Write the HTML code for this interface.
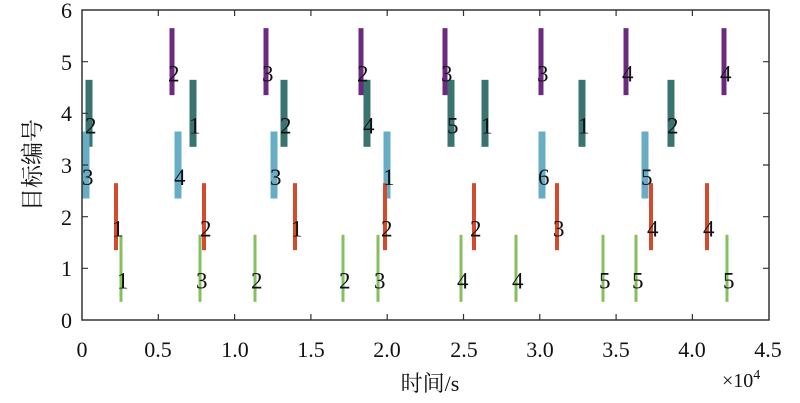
<!DOCTYPE html>
<html><head><meta charset="utf-8"><style>body{margin:0;background:#fff}svg{display:block}</style></head>
<body>
<svg width="800" height="403" xmlns="http://www.w3.org/2000/svg" style="font-family:'Liberation Serif','DejaVu Serif','Noto Serif CJK SC',serif">
<g id="bars" style="font-family:'Liberation Serif','DejaVu Serif',serif"></g>
<rect x="82" y="10" width="687" height="310" fill="none" stroke="#333" stroke-width="1.5"/>
<g stroke="#333" stroke-width="1.2">
<path d="M158.3 320v-6M234.6 320v-6M310.9 320v-6M387.2 320v-6M463.5 320v-6M539.8 320v-6M616.1 320v-6M692.4 320v-6"/>
<path d="M158.3 10v6M234.6 10v6M310.9 10v6M387.2 10v6M463.5 10v6M539.8 10v6M616.1 10v6M692.4 10v6"/>
<path d="M82 268.3h6M82 216.7h6M82 165h6M82 113.3h6M82 61.7h6"/>
<path d="M769 268.3h-6M769 216.7h-6M769 165h-6M769 113.3h-6M769 61.7h-6"/>
</g>
<g font-size="22" fill="#111" text-anchor="end" style="font-family:'Liberation Serif','DejaVu Serif',serif">
<text x="72" y="328">0</text><text x="72" y="276">1</text><text x="72" y="225">2</text><text x="72" y="173">3</text><text x="72" y="121">4</text><text x="72" y="70">5</text><text x="72" y="18">6</text>
</g>
<g font-size="22" fill="#111" text-anchor="middle" style="font-family:'Liberation Serif','DejaVu Serif',serif">
<text x="82" y="357">0</text><text x="158" y="357">0.5</text><text x="235" y="357">1.0</text><text x="311" y="357">1.5</text><text x="387" y="357">2.0</text><text x="464" y="357">2.5</text><text x="540" y="357">3.0</text><text x="616" y="357">3.5</text><text x="692" y="357">4.0</text><text x="768" y="357">4.5</text>
</g>
<text x="430" y="391" font-size="22" text-anchor="middle" fill="#111" style="font-family:'Liberation Serif','Noto Serif CJK SC',serif">时间/s</text>
<text x="722" y="387" font-size="20" fill="#111" style="font-family:'Liberation Serif',serif">×10<tspan dy="-8" font-size="14">4</tspan></text>
<text transform="translate(40,165) rotate(-90)" font-size="23" text-anchor="middle" fill="#111" style="font-family:'Noto Serif CJK SC',serif">目标编号</text>
<script>
var g=document.getElementById('bars'),NS='http://www.w3.org/2000/svg';
var S=[
[5,'#6b2a7f',5,[[172,2],[266,3],[361,2],[445,3],[541,3],[626,4],[724,4]]],
[4,'#3a7470',7,[[89,2],[193,1],[284,2],[367,4],[451,5],[485,1],[582,1],[671,2]]],
[3,'#67adc5',7,[[86,3],[178,4],[274,3],[387,1],[542,6],[645,5]]],
[2,'#d44a2d',4,[[116,1],[204,2],[295,1],[385,2],[474,2],[557,3],[651,4],[707,4]]],
[1,'#86bf5e',3,[[121,1],[200,3],[255,2],[343,2],[378,3],[461,4],[516,4],[603,5],[636,5],[727,5]]]];
var txt=[];
S.forEach(function(s){var ly=320-s[0]*51.67;s[3].forEach(function(b){
var r=document.createElementNS(NS,'rect');r.setAttribute('x',b[0]-s[2]/2);r.setAttribute('y',ly-33.5);r.setAttribute('width',s[2]);r.setAttribute('height',67);r.setAttribute('fill',s[1]);g.appendChild(r);
txt.push([b[0]-4,ly+20,b[1]]);});});
txt.forEach(function(t){var e=document.createElementNS(NS,'text');e.setAttribute('x',t[0]);e.setAttribute('y',t[1]);e.setAttribute('font-size','23');e.setAttribute('fill','#111');e.setAttribute('style',"font-family:'Liberation Serif','DejaVu Serif',serif");e.textContent=t[2];g.appendChild(e);});
</script>
</svg>
</body></html>
